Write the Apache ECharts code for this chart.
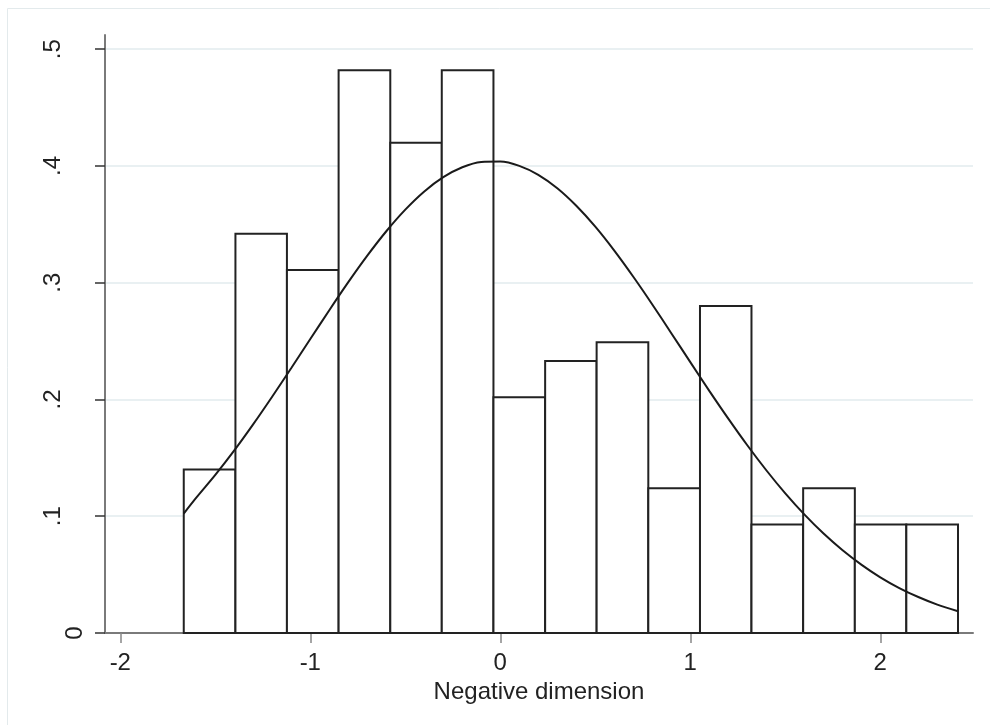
<!DOCTYPE html>
<html>
<head>
<meta charset="utf-8">
<script src="https://cdn.jsdelivr.net/npm/echarts@6/dist/echarts.min.js"></script>
<style>
  html, body { margin: 0; padding: 0; background: #fff; }
  #chart { width: 990px; height: 725px; }
</style>
</head>
<body>
<div id="chart"></div>
<script>
// bin edges of the histogram
const binEdges = [-1.666, -1.394, -1.123, -0.851, -0.579, -0.308, -0.036, 0.236,
  0.507, 0.779, 1.051, 1.322, 1.594, 1.866, 2.137, 2.409];
// density of each bin
const binDensity = [0.140, 0.342, 0.311, 0.482, 0.420, 0.482, 0.202, 0.233,
  0.249, 0.124, 0.280, 0.093, 0.124, 0.093, 0.093];
// normal density overlay
const curveX = [-1.666, -1.6, -1.5, -1.4, -1.3, -1.2, -1.1, -1.0, -0.9, -0.8, -0.7,
  -0.6, -0.5, -0.4, -0.3, -0.2, -0.1, 0, 0.1, 0.2, 0.3, 0.4, 0.5, 0.6, 0.7, 0.8,
  0.9, 1.0, 1.1, 1.2, 1.3, 1.4, 1.5, 1.6, 1.7, 1.8, 1.9, 2.0, 2.1, 2.2, 2.3, 2.409];
const curveY = [0.1023, 0.1159, 0.1354, 0.1564, 0.1789, 0.2026, 0.2270, 0.2518,
  0.2765, 0.3005, 0.3232, 0.3441, 0.3626, 0.3782, 0.3904, 0.3989, 0.4034, 0.4038,
  0.4001, 0.3924, 0.3809, 0.3659, 0.3480, 0.3275, 0.3051, 0.2814, 0.2568, 0.2320,
  0.2074, 0.1836, 0.1608, 0.1394, 0.1196, 0.1016, 0.0854, 0.0711, 0.0586, 0.0477,
  0.0385, 0.0308, 0.0243, 0.0186];
const xTicks = [-2, -1, 0, 1, 2];
const yTicks = [0, 0.1, 0.2, 0.3, 0.4, 0.5];

const bars = binDensity.map((d, i) => [binEdges[i], binEdges[i + 1], d]);
const curve = curveX.map((x, i) => [x, curveY[i]]);

const chart = echarts.init(document.getElementById('chart'));
chart.setOption({
  animation: false,
  backgroundColor: '#fff',
  textStyle: { fontFamily: 'Liberation Sans, Arial, sans-serif' },
  graphic: [{
    type: 'rect', silent: true, z: -10,
    shape: { x: 7.5, y: 8.5, width: 1000, height: 740 },
    style: { fill: 'none', stroke: '#e3eaec', lineWidth: 1 }
  }],
  grid: { left: 105, right: 17, top: 35, bottom: 92 },
  xAxis: {
    type: 'value',
    min: -2.0805,
    max: 2.4879,
    name: 'Negative dimension',
    nameLocation: 'middle',
    nameGap: 42,
    nameTextStyle: { fontSize: 24, color: '#222' },
    axisLine: { onZero: false, lineStyle: { color: '#7a7a7a', width: 2 } },
    axisTick: { customValues: xTicks, length: 10, lineStyle: { color: '#888', width: 1.5 } },
    axisLabel: { customValues: xTicks, fontSize: 24, color: '#222', margin: 18 },
    splitLine: { show: false }
  },
  yAxis: {
    type: 'value',
    min: 0,
    max: 0.5122,
    axisLine: { show: true, onZero: false, lineStyle: { color: '#7a7a7a', width: 2 } },
    axisTick: { show: true, customValues: yTicks, length: 10, lineStyle: { color: '#333', width: 1.5 } },
    axisLabel: {
      customValues: yTicks,
      rotate: 90,
      margin: 18,
      color: '#222',
      fontSize: 24,
      formatter: v => v === 0 ? '{z|0}' : '{d|' + v.toFixed(1).replace(/^0/, '') + '}',
      rich: {
        z: { fontSize: 24, color: '#222' },
        d: { fontSize: 24, color: '#222', padding: [0, 0, 22, 0] }
      }
    },
    splitLine: { show: true, lineStyle: { color: '#e9f0f2', width: 2 } }
  },
  series: [
    {
      type: 'custom',
      data: bars,
      encode: { x: [0, 1], y: 2 },
      renderItem: (params, api) => {
        const p0 = api.coord([api.value(0), api.value(2)]);
        const p1 = api.coord([api.value(1), 0]);
        return {
          type: 'rect',
          shape: { x: p0[0], y: p0[1], width: p1[0] - p0[0], height: p1[1] - p0[1] },
          style: { fill: '#fff', stroke: '#222', lineWidth: 2 }
        };
      },
      z: 2
    },
    {
      type: 'line',
      data: curve,
      smooth: 0.3,
      showSymbol: false,
      lineStyle: { color: '#1a1a1a', width: 2 },
      z: 3
    }
  ]
});
</script>
</body>
</html>
